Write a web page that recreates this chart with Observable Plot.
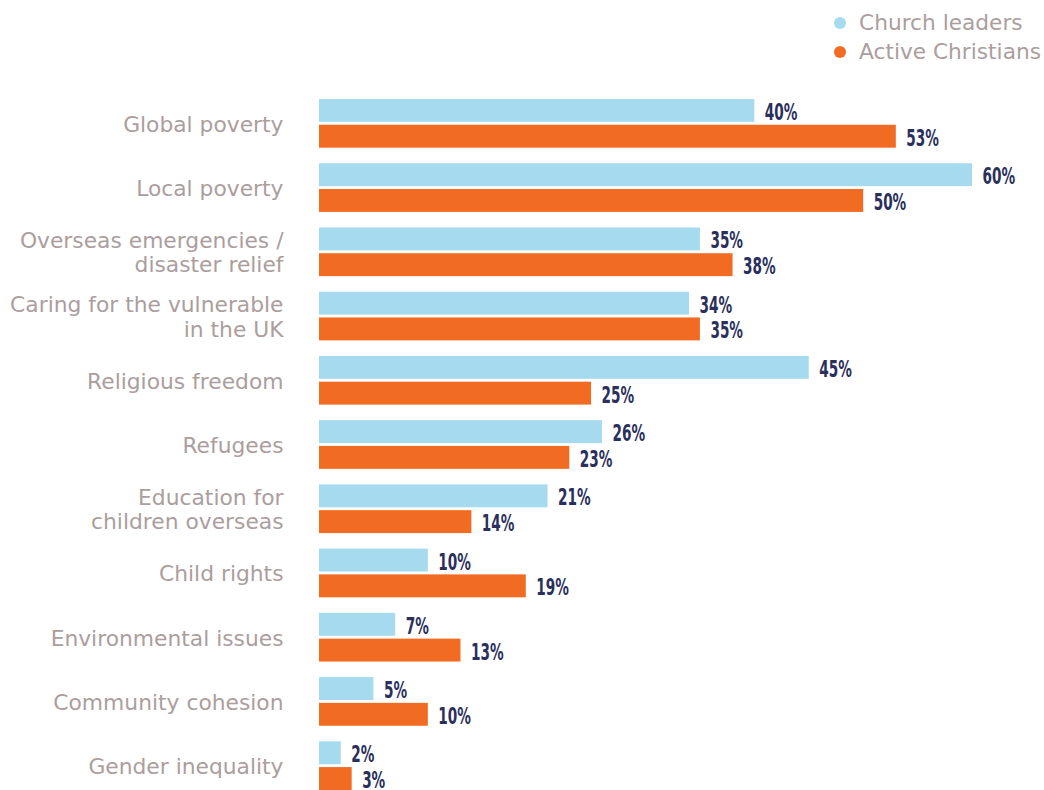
<!DOCTYPE html>
<html>
<head>
<meta charset="utf-8">
<script src="https://cdn.jsdelivr.net/npm/d3@7"></script>
<script src="https://cdn.jsdelivr.net/npm/@observablehq/plot@0.6"></script>
<style>
  html, body { margin: 0; padding: 0; background: #fff; }
  #wrap { position: relative; width: 1044px; height: 790px; overflow: hidden; }
  #legend { position: absolute; left: 832px; top: 8px; font-family: "DejaVu Sans", sans-serif; font-size: 21.7px; color: #ab9e9d; white-space: nowrap; }
  #legend .item { display: flex; align-items: center; height: 29px; }
  #legend .dot { width: 12px; height: 12px; border-radius: 50%; margin-right: 13px; margin-left: 2px; }
  #chart { position: absolute; left: 0; top: 0; }
</style>
</head>
<body>
<div id="wrap">
  <div id="chart"></div>
  <div id="legend"></div>
</div>
<script>
const categories = ["Global poverty","Local poverty","Overseas emergencies","Caring for the vulnerable","Religious freedom","Refugees","Education for children","Child rights","Environmental issues","Community cohesion","Gender inequality"];
const categoryLabels = ["Global poverty","Local poverty","Overseas emergencies /\ndisaster relief","Caring for the vulnerable\nin the UK","Religious freedom","Refugees","Education for\nchildren overseas","Child rights","Environmental issues","Community cohesion","Gender inequality"];
const seriesNames = ["Church leaders","Active Christians"];
const churchLeaders = [40,60,35,34,45,26,21,10,7,5,2];
const activeChristians = [53,50,38,35,25,23,14,19,13,10,3];
const seriesColors = ["#a6dbef","#f26b22"];

const data = [];
categories.forEach((c, i) => {
  data.push({category: c, series: seriesNames[0], value: churchLeaders[i]});
  data.push({category: c, series: seriesNames[1], value: activeChristians[i]});
});
const labelOf = new Map(categories.map((c, i) => [c, categoryLabels[i]]));

const chart = Plot.plot({
  width: 1044,
  height: 790,
  marginLeft: 319,
  marginRight: 72,
  marginTop: 99,
  marginBottom: 0,
  x: {domain: [0, 60], axis: null},
  y: {domain: seriesNames, axis: null, paddingInner: 0.11, paddingOuter: 0, round: false},
  fy: {domain: categories, paddingInner: 0.242, paddingOuter: 0, round: false, label: null},
  color: {domain: seriesNames, range: seriesColors},
  style: {background: "transparent", overflow: "visible"},
  marks: [
    Plot.barX(data, {x: "value", y: "series", fy: "category", fill: "series"}),
    Plot.text(data, {x: "value", y: "series", fy: "category", text: d => d.value + "%", dx: 10, dy: 1.5, textAnchor: "start",
      fill: "#2a2f5c", fontSize: 23.5, fontWeight: "bold", fontFamily: "'DejaVu Sans', sans-serif"}),
    Plot.axisFy({anchor: "left", tickSize: 0, tickPadding: 36, label: null, fontSize: 21.8, color: "#ab9e9d",
      fontFamily: "'DejaVu Sans', sans-serif", lineHeight: 1.12, tickFormat: d => labelOf.get(d)})
  ]
});
// condense the value labels horizontally (reference uses a tall condensed face)
d3.select(chart).selectAll('g[aria-label="text"] text').each(function() {
  const t = this.getAttribute("transform") || "";
  this.setAttribute("transform", t + " scale(0.58,1)");
});
document.getElementById("chart").appendChild(chart);

const legend = document.getElementById("legend");
seriesNames.forEach((s, i) => {
  const item = document.createElement("div");
  item.className = "item";
  const dot = document.createElement("span");
  dot.className = "dot";
  dot.style.background = seriesColors[i];
  const t = document.createElement("span");
  t.textContent = s;
  item.appendChild(dot); item.appendChild(t);
  legend.appendChild(item);
});
</script>
</body>
</html>
